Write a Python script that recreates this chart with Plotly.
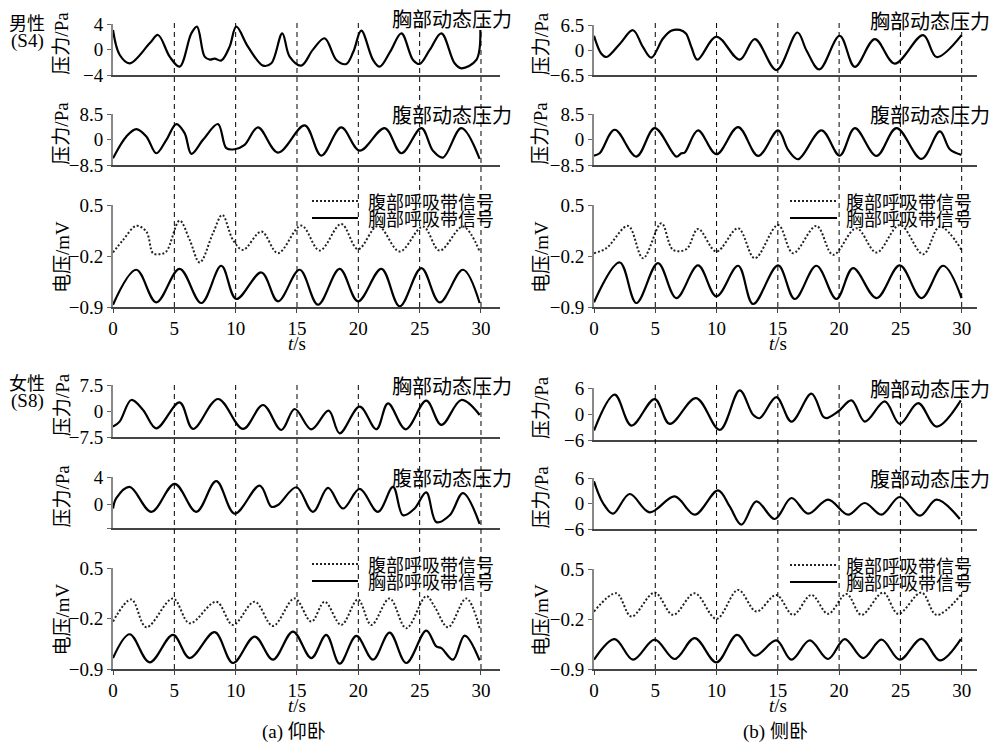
import plotly.graph_objects as go

W, H = 993, 743

# ---------------- data (time in s) ----------------
# Male (S4), supine
T_M_SUP_CHEST = [0, 0.54, 1.36, 2.99, 3.67, 4.62, 5.43, 6.39, 6.85, 7.47, 7.9, 8.29, 8.83, 9.51, 10.05, 11.0, 12.23, 12.91, 13.8, 14.4, 15.35, 16.3, 17.26, 18.21, 19.02, 19.6, 20.24, 21.2, 21.74, 22.6, 23.51, 24.46, 25.0, 25.82, 26.77, 27.85, 28.4, 29.62, 29.95]
P_M_SUP_CHEST = [3.06, -0.8, -2.13, 0.99, 2.29, -1.09, -2.65, 2.55, 3.58, -1.09, -1.55, -1.4, -1.7, 0.47, 3.58, 0.47, -2.49, -2.13, 2.55, -1.09, -2.49, 0.0, 1.77, -1.61, -2.23, -0.3, 2.96, -1.61, -2.65, -0.3, 2.55, -1.61, -2.23, -0.05, 2.55, -2.13, -2.91, -1.61, 3.06]
T_M_SUP_ABD = [0, 1.09, 1.9, 2.72, 3.53, 4.35, 5.16, 5.84, 6.39, 7.34, 8.56, 9.24, 9.92, 10.73, 11.82, 13.45, 15.63, 16.98, 18.61, 20.11, 22.15, 23.51, 25.14, 26.09, 26.9, 28.4, 29.89]
P_M_SUP_ABD = [-6.17, 1.06, 3.5, 1.06, -4.5, -0.06, 5.17, 2.17, -4.72, -0.06, 5.17, -2.83, -3.17, -1.72, 4.06, -4.28, 4.72, -5.28, 4.06, -3.61, 3.83, -4.5, 3.83, -3.72, -5.94, 3.83, -6.39]
T_M_SUP_BELT_ABD = [0, 0.82, 1.9, 2.72, 3.26, 3.8, 4.35, 5.43, 6.25, 7.07, 8.15, 8.91, 9.78, 10.6, 12.1, 13.45, 15.35, 16.85, 18.61, 19.97, 21.6, 23.37, 25.27, 26.63, 28.53, 29.89]
V_M_SUP_BELT_ABD = [-0.152, 0.021, 0.213, 0.135, -0.161, -0.175, -0.138, 0.286, 0.021, -0.289, 0.112, 0.363, 0.021, -0.116, 0.135, -0.161, 0.217, -0.125, 0.24, -0.107, 0.213, -0.138, 0.204, -0.125, 0.204, -0.138]
T_M_SUP_BELT_CHEST = [0, 1.9, 3.53, 5.43, 7.2, 8.83, 10.05, 12.1, 13.45, 15.22, 16.71, 18.48, 19.97, 21.88, 23.37, 25.14, 26.63, 28.53, 29.89]
V_M_SUP_BELT_CHEST = [-0.868, -0.389, -0.836, -0.376, -0.845, -0.334, -0.79, -0.426, -0.822, -0.389, -0.868, -0.376, -0.822, -0.376, -0.891, -0.366, -0.836, -0.389, -0.845]

# Male (S4), lateral
T_M_LAT_CHEST = [0, 0.6, 1.01, 2.1, 3.18, 4.0, 4.68, 5.63, 6.3, 7.0, 7.5, 7.95, 8.44, 9.99, 11.89, 13.12, 14.89, 16.6, 17.34, 18.39, 20.05, 21.28, 22.92, 24.54, 26.86, 27.95, 29.99]
P_M_LAT_CHEST = [3.72, -0.93, -1.77, 1.61, 5.15, 0.76, -1.94, 3.0, 5.0, 5.23, 4.3, 0.76, -2.45, 3.46, -2.45, 2.87, -5.15, 4.56, -0.08, -4.98, 3.72, -4.3, 2.87, -3.46, 3.88, -1.77, 3.88]
T_M_LAT_ABD = [0, 0.46, 1.69, 3.46, 4.95, 6.72, 7.13, 7.4, 8.49, 9.99, 11.76, 13.39, 15.02, 15.84, 16.65, 18.56, 20.05, 21.28, 23.05, 24.68, 26.72, 28.22, 29.03, 29.99]
P_M_LAT_ABD = [-5.28, -4.5, 3.28, -5.61, 3.83, -5.61, -4.5, -4.28, 3.06, -4.83, 4.17, -5.39, 3.06, -3.39, -6.5, 3.06, -5.28, 3.83, -5.39, 3.83, -6.39, 2.72, -3.17, -5.06]
T_M_LAT_BELT_ABD = [0, 1.01, 2.78, 4.0, 5.5, 6.45, 7.54, 8.49, 9.99, 11.76, 13.12, 15.02, 16.24, 18.15, 19.51, 21.41, 23.05, 24.95, 26.86, 28.22, 29.99]
V_M_LAT_BELT_ABD = [-0.161, -0.093, 0.213, -0.23, 0.249, -0.116, -0.107, 0.172, -0.138, 0.181, -0.23, 0.226, -0.161, 0.213, -0.184, 0.181, -0.152, 0.226, -0.175, 0.204, -0.116]
T_M_LAT_BELT_CHEST = [0, 2.1, 3.46, 5.22, 6.72, 8.49, 9.99, 11.76, 12.98, 15.02, 16.38, 18.15, 19.78, 21.14, 23.05, 24.95, 26.72, 28.49, 29.99]
V_M_LAT_BELT_CHEST = [-0.836, -0.289, -0.845, -0.298, -0.777, -0.33, -0.754, -0.334, -0.859, -0.33, -0.79, -0.334, -0.79, -0.366, -0.777, -0.33, -0.777, -0.334, -0.777]

# Female (S8), supine
T_F_SUP_CHEST = [0, 0.54, 1.49, 2.45, 3.53, 5.43, 6.52, 8.56, 10.6, 12.23, 13.72, 14.81, 16.17, 17.58, 18.48, 20.11, 21.47, 22.42, 23.86, 25.54, 26.77, 28.4, 29.89]
P_F_SUP_CHEST = [-4.44, -3.0, 3.2, 0.34, -4.92, 2.53, -5.1, 3.49, -5.1, 1.77, -5.4, 0.62, -5.2, 0.15, -6.35, 1.29, -5.2, 2.25, -5.2, 3.01, -3.96, 3.2, -1.1]
T_F_SUP_ABD = [0, 0.27, 1.36, 3.13, 5.03, 6.79, 8.42, 9.92, 11.96, 12.91, 13.45, 14.95, 16.3, 17.53, 18.75, 20.11, 21.6, 22.83, 23.64, 24.59, 25.54, 26.36, 27.45, 28.53, 29.89]
P_F_SUP_ABD = [-0.66, 0.86, 2.53, -1.16, 2.99, -1.16, 3.39, -1.42, 2.73, -0.41, -0.15, 2.48, -1.16, 2.38, -0.66, 2.23, -1.16, 2.53, -1.67, -0.66, 1.72, -2.68, -1.67, 1.62, -2.94]
T_F_SUP_BELT_ABD = [0, 1.49, 2.72, 4.89, 6.25, 8.42, 9.78, 11.55, 13.04, 14.81, 16.17, 17.26, 18.61, 19.97, 21.06, 22.55, 23.91, 25.54, 26.22, 27.31, 28.8, 29.89]
V_F_SUP_BELT_ABD = [-0.243, 0.064, -0.321, 0.078, -0.266, 0.032, -0.289, 0.032, -0.303, 0.078, -0.243, 0.032, -0.289, 0.064, -0.289, 0.078, -0.335, 0.11, -0.037, -0.321, 0.078, -0.335]
T_F_SUP_BELT_CHEST = [0, 1.36, 2.99, 4.89, 6.25, 8.29, 9.78, 11.55, 13.04, 14.67, 16.17, 17.39, 18.48, 19.84, 21.2, 22.55, 23.91, 25.54, 26.36, 26.77, 27.72, 28.67, 29.89]
V_F_SUP_BELT_CHEST = [-0.748, -0.418, -0.808, -0.427, -0.748, -0.39, -0.817, -0.45, -0.771, -0.381, -0.748, -0.427, -0.826, -0.441, -0.771, -0.395, -0.817, -0.367, -0.588, -0.61, -0.771, -0.436, -0.78]

# Female (S8), lateral
T_F_LAT_CHEST = [0, 1.69, 3.05, 4.95, 6.18, 8.33, 10.26, 11.89, 12.98, 13.52, 14.88, 16.11, 17.74, 18.69, 18.97, 19.92, 21.01, 22.1, 23.73, 24.95, 26.45, 27.95, 29.93]
P_F_LAT_CHEST = [-3.83, 4.45, -2.67, 3.45, -2.28, 3.68, -3.67, 5.46, -0.19, -0.97, 3.91, -1.74, 4.68, -0.58, -0.97, 0.58, 3.14, -1.74, 2.9, -2.28, 2.52, -2.9, 3.14]
T_F_LAT_ABD = [0, 0.73, 1.55, 2.91, 4.54, 6.59, 8.22, 10.12, 11.07, 12.03, 13.25, 14.75, 16.11, 17.47, 19.1, 20.73, 22.09, 23.45, 24.95, 26.59, 27.95, 29.85]
P_F_LAT_ABD = [5.22, 0.12, -2.39, 2.24, -2.08, 1.69, -2.63, 3.1, -0.67, -4.98, 0.51, -3.65, 1.29, -2.39, 0.9, -2.63, 0.12, -2.63, 1.53, -2.86, 0.9, -3.65]
T_F_LAT_BELT_ABD = [0, 1.82, 3.05, 4.95, 6.45, 8.22, 9.99, 11.76, 13.25, 14.88, 16.24, 17.74, 19.1, 20.6, 21.82, 23.59, 24.82, 26.72, 27.95, 29.93]
V_F_LAT_BELT_ABD = [-0.095, 0.16, -0.165, 0.17, -0.142, 0.16, -0.198, 0.207, -0.095, 0.137, -0.142, 0.137, -0.128, 0.151, -0.142, 0.17, -0.128, 0.17, -0.142, 0.137]
T_F_LAT_BELT_CHEST = [0, 1.69, 3.18, 4.95, 6.58, 8.22, 9.99, 11.67, 13.12, 14.88, 16.11, 17.6, 19.1, 20.46, 21.96, 23.46, 24.95, 26.72, 28.22, 29.93]
V_F_LAT_BELT_CHEST = [-0.77, -0.481, -0.77, -0.49, -0.76, -0.467, -0.807, -0.421, -0.714, -0.5, -0.77, -0.5, -0.76, -0.481, -0.747, -0.49, -0.77, -0.477, -0.779, -0.481]

# tick labels / reference lines
X_TICKS = [0, 5, 10, 15, 20, 25, 30]
REF_LINES = [5, 10, 15, 20, 25, 30]
Y_TICKS_M_SUP_CHEST = [-4, 0, 4]
Y_TICKS_M_LAT_CHEST = [-6.5, 0, 6.5]
Y_TICKS_M_ABD = [-8.5, 0, 8.5]
Y_TICKS_F_SUP_CHEST = [-7.5, 0, 7.5]
Y_TICKS_F_SUP_ABD = [0, 4]
Y_TICKS_F_LAT = [-6, 0, 6]
Y_TICKS_BELT = [-0.9, -0.2, 0.5]

TXT_CHEST_P = "胸部动态压力"
TXT_ABD_P = "腹部动态压力"
TXT_BELT_ABD = "腹部呼吸带信号"
TXT_BELT_CHEST = "胸部呼吸带信号"

# ---------------- layout helpers ----------------
def fx(p):
    return p / W

def fy(p):
    return 1 - p / H

SERIF = "Liberation Serif, Times New Roman, Noto Sans CJK SC, serif"
CJK = "Noto Sans CJK SC, Liberation Serif, sans-serif"

COLS = {0: dict(x0=113, x1=500, xmax=31.55, ytitle_x=62, ann_x=390, leg_x0=312, leg_x1=358, leg_tx=366),
        1: dict(x0=594, x1=977, xmax=31.25, ytitle_x=541, ann_x=868, leg_x0=790, leg_x1=837, leg_tx=844)}

# panels: (group, col, row, ytop, ybot, yrange, ticks, ticktext, series)
panels = [
    (0, 0, 0, 24, 75.3, [-4, 4], Y_TICKS_M_SUP_CHEST, None, [(T_M_SUP_CHEST, P_M_SUP_CHEST, "solid")]),
    (0, 0, 1, 114, 165.3, [-8.5, 8.5], Y_TICKS_M_ABD, None, [(T_M_SUP_ABD, P_M_SUP_ABD, "solid")]),
    (0, 0, 2, 205, 307, [-0.9, 0.5], Y_TICKS_BELT, None, [(T_M_SUP_BELT_ABD, V_M_SUP_BELT_ABD, "dot"), (T_M_SUP_BELT_CHEST, V_M_SUP_BELT_CHEST, "solid")]),
    (0, 1, 0, 25, 75.3, [-6.5, 6.5], Y_TICKS_M_LAT_CHEST, None, [(T_M_LAT_CHEST, P_M_LAT_CHEST, "solid")]),
    (0, 1, 1, 114, 165.3, [-8.5, 8.5], Y_TICKS_M_ABD, None, [(T_M_LAT_ABD, P_M_LAT_ABD, "solid")]),
    (0, 1, 2, 205, 307, [-0.9, 0.5], Y_TICKS_BELT, None, [(T_M_LAT_BELT_ABD, V_M_LAT_BELT_ABD, "dot"), (T_M_LAT_BELT_CHEST, V_M_LAT_BELT_CHEST, "solid")]),
    (1, 0, 0, 385, 437.3, [-7.5, 7.5], Y_TICKS_F_SUP_CHEST, None, [(T_F_SUP_CHEST, P_F_SUP_CHEST, "solid")]),
    (1, 0, 1, 477, 528, [-3.55, 4], [-3.55] + Y_TICKS_F_SUP_ABD, ["", "0", "4"], [(T_F_SUP_ABD, P_F_SUP_ABD, "solid")]),
    (1, 0, 2, 568, 669, [-0.9, 0.5], Y_TICKS_BELT, None, [(T_F_SUP_BELT_ABD, V_F_SUP_BELT_ABD, "dot"), (T_F_SUP_BELT_CHEST, V_F_SUP_BELT_CHEST, "solid")]),
    (1, 1, 0, 388, 440, [-6, 6], Y_TICKS_F_LAT, None, [(T_F_LAT_CHEST, P_F_LAT_CHEST, "solid")]),
    (1, 1, 1, 478, 529, [-6, 6], Y_TICKS_F_LAT, None, [(T_F_LAT_ABD, P_F_LAT_ABD, "solid")]),
    (1, 1, 2, 569, 669, [-0.9, 0.5], Y_TICKS_BELT, None, [(T_F_LAT_BELT_ABD, V_F_LAT_BELT_ABD, "dot"), (T_F_LAT_BELT_CHEST, V_F_LAT_BELT_CHEST, "solid")]),
]

fig = go.Figure()
layout = dict(template="none", width=W, height=H,
              margin=dict(l=0, r=0, t=0, b=0, pad=0, autoexpand=False),
              paper_bgcolor="white", plot_bgcolor="white", showlegend=False,
              font=dict(family=SERIF, size=19, color="black"))
annotations = []
shapes = []

TICKFONT = dict(family=SERIF, size=19, color="black")

for i, (g, c, r, ytop, ybot, yr, tv, tt, series) in enumerate(panels):
    n = i + 1
    col = COLS[c]
    xa = dict(domain=[fx(col["x0"]), fx(col["x1"])], range=[0, col["xmax"]], anchor=f"y{n}",
              showline=True, linecolor="#444", linewidth=1.5, showgrid=False, zeroline=False,
              fixedrange=True, automargin=False)
    if r == 2:
        xa.update(tickvals=X_TICKS, ticks="outside", ticklen=4, tickcolor="#444", tickwidth=1,
                  tickfont=TICKFONT, showticklabels=True)
    else:
        xa.update(ticks="", showticklabels=False)
    ya = dict(domain=[fy(ybot), fy(ytop)], range=yr, anchor=f"x{n}", showline=True,
              linecolor="#888", linewidth=2, showgrid=False, zeroline=False, ticks="outside",
              ticklen=4, tickcolor="#666", tickwidth=1, tickvals=tv, tickfont=TICKFONT,
              fixedrange=True, automargin=False)
    if tt is not None:
        ya["ticktext"] = tt
    layout[f"xaxis{n}"] = xa
    layout[f"yaxis{n}"] = ya

    for (tx, vy, style) in series:
        if style == "dot":
            line = dict(color="#222", width=2, dash="2px,2px", shape="spline", smoothing=1)
        else:
            line = dict(color="black", width=2.2, shape="spline", smoothing=1)
        fig.add_trace(go.Scatter(x=tx, y=vy, mode="lines", line=line,
                                 xaxis=f"x{n}", yaxis=f"y{n}", hoverinfo="skip"))

    # y-axis titles
    ytitle = "电压/mV" if r == 2 else "压力/Pa"
    if r == 2:
        yc = (ytop + ybot) / 2 + 1
    else:
        yc = (ytop + ybot) / 2 - 6
    annotations.append(dict(text=ytitle, x=fx(col["ytitle_x"]), y=fy(yc), xref="paper", yref="paper",
                            textangle=-90, showarrow=False, xanchor="center", yanchor="middle",
                            font=dict(family=SERIF, size=19, color="black")))
    # panel labels
    if r in (0, 1):
        annotations.append(dict(text=TXT_CHEST_P if r == 0 else TXT_ABD_P,
                                x=fx(col["ann_x"]), y=fy(ytop - 5 if g == 0 and r == 0 else ytop + 0),
                                xref="paper", yref="paper", showarrow=False,
                                xanchor="left", yanchor="middle",
                                font=dict(family=CJK, size=20, color="black")))
    else:
        # legend samples
        y1 = ytop - 4
        y2 = ytop + 13
        shapes.append(dict(type="line", xref="paper", yref="paper", x0=fx(col["leg_x0"]), x1=fx(col["leg_x1"]),
                           y0=fy(y1), y1=fy(y1), line=dict(color="#222", width=2, dash="2px,2px")))
        shapes.append(dict(type="line", xref="paper", yref="paper", x0=fx(col["leg_x0"]), x1=fx(col["leg_x1"]),
                           y0=fy(y2), y1=fy(y2), line=dict(color="black", width=2.2)))
        annotations.append(dict(text=TXT_BELT_ABD, x=fx(col["leg_tx"]), y=fy(y1), xref="paper", yref="paper",
                                showarrow=False, xanchor="left", yanchor="middle",
                                font=dict(family=CJK, size=18, color="black")))
        annotations.append(dict(text=TXT_BELT_CHEST, x=fx(col["leg_tx"]), y=fy(y2), xref="paper", yref="paper",
                                showarrow=False, xanchor="left", yanchor="middle",
                                font=dict(family=CJK, size=18, color="black")))
        # t/s
        xc = (col["x0"] + col["x0"] + (col["x1"] - col["x0"]) * 30 / col["xmax"]) / 2
        annotations.append(dict(text="<i>t</i>/s", x=fx(xc), y=fy(ybot + 36), xref="paper", yref="paper",
                                showarrow=False, xanchor="center", yanchor="middle",
                                font=dict(family=SERIF, size=19, color="black")))
        # vertical dashed reference lines through the three panels
        top_px = 21 if g == 0 else 384
        for xv in REF_LINES:
            shapes.append(dict(type="line", xref=f"x{n}", yref="paper", x0=xv, x1=xv,
                               y0=fy(ybot), y1=fy(top_px), layer="above",
                               line=dict(color="black", width=1, dash="5px,4px")))

# group labels
for (txt1, txt2, ycen) in [("男性", "(S4)", 22), ("女性", "(S8)", 382)]:
    annotations.append(dict(text=txt1, x=fx(27), y=fy(ycen), xref="paper", yref="paper", showarrow=False,
                            xanchor="center", yanchor="middle", font=dict(family=CJK, size=18, color="black")))
    annotations.append(dict(text=txt2, x=fx(27), y=fy(ycen + 19), xref="paper", yref="paper", showarrow=False,
                            xanchor="center", yanchor="middle", font=dict(family=SERIF, size=19, color="black")))

# sub-figure captions
annotations.append(dict(text="(a) 仰卧", x=fx(294), y=fy(732), xref="paper", yref="paper", showarrow=False,
                        xanchor="center", yanchor="middle", font=dict(family=SERIF, size=19, color="black")))
annotations.append(dict(text="(b) 侧卧", x=fx(775), y=fy(732), xref="paper", yref="paper", showarrow=False,
                        xanchor="center", yanchor="middle", font=dict(family=SERIF, size=19, color="black")))

layout["annotations"] = annotations
layout["shapes"] = shapes
fig.update_layout(**layout)
fig.write_html("out.html", config={"displayModeBar": False, "staticPlot": True},
               post_script="document.body.style.margin='0';document.body.style.overflow='hidden';")
